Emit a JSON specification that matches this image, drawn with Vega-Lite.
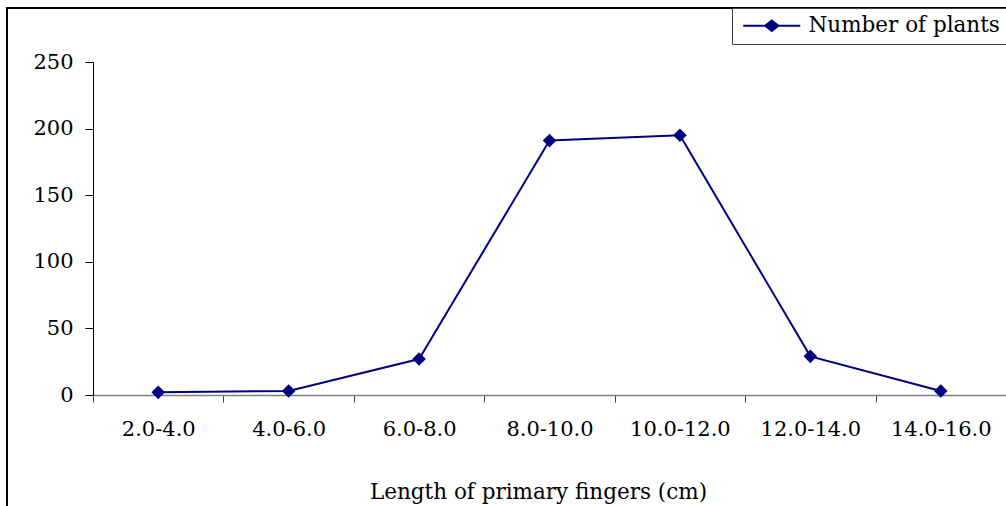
{
  "$schema": "https://vega.github.io/schema/vega-lite/v6.json",
  "width": 913,
  "height": 333,
  "autosize": {"type": "none"},
  "padding": {"left": 93, "top": 62, "right": 0, "bottom": 111},
  "background": "white",
  "config": {
    "font": "DejaVu Serif",
    "view": {"stroke": null},
    "axis": {"labelFont": "DejaVu Serif", "titleFont": "DejaVu Serif", "labelColor": "black", "titleColor": "black", "grid": false}
  },
  "datasets": {
    "counts": [
      {"length": "2.0-4.0", "plants": 2, "series": "Number of plants"},
      {"length": "4.0-6.0", "plants": 3, "series": "Number of plants"},
      {"length": "6.0-8.0", "plants": 27, "series": "Number of plants"},
      {"length": "8.0-10.0", "plants": 191, "series": "Number of plants"},
      {"length": "10.0-12.0", "plants": 195, "series": "Number of plants"},
      {"length": "12.0-14.0", "plants": 29, "series": "Number of plants"},
      {"length": "14.0-16.0", "plants": 3, "series": "Number of plants"}
    ],
    "frame": [{"id": 1}]
  },
  "layer": [
    {
      "data": {"name": "frame"},
      "mark": {"type": "rect", "fill": null, "stroke": "black", "strokeWidth": 2},
      "encoding": {
        "x": {"value": -86},
        "x2": {"value": {"expr": "width + 40"}},
        "y": {"value": -54},
        "y2": {"value": {"expr": "height + 200"}}
      }
    },
    {
      "data": {"name": "counts"},
      "encoding": {
        "x": {
          "field": "length", "type": "ordinal", "sort": null,
          "scale": {"type": "band", "paddingInner": 0, "paddingOuter": 0},
          "axis": {
            "title": "Length of primary fingers (cm)", "labelAngle": 0, "tickBand": "extent",
            "domainColor": "#808080", "domainWidth": 1.5, "tickColor": "#404040", "tickSize": 7,
            "labelFontSize": 21, "labelPadding": 16, "titleFontSize": 21.5, "titleFontWeight": "normal",
            "titlePadding": 42, "titleX": 445
          }
        },
        "y": {
          "field": "plants", "type": "quantitative",
          "scale": {"domain": [0, 250], "nice": false},
          "axis": {
            "title": null, "values": [0, 50, 100, 150, 200, 250],
            "domainColor": "black", "tickColor": "black", "tickSize": 8,
            "labelFontSize": 21, "labelPadding": 12
          }
        }
      },
      "layer": [
        {"mark": {"type": "line", "color": "#000080", "strokeWidth": 2}},
        {
          "mark": {"type": "point", "shape": "diamond", "filled": true, "size": 185, "opacity": 1},
          "encoding": {
            "color": {
              "field": "series", "type": "nominal",
              "scale": {"range": ["#000080"]},
              "legend": {
                "title": null, "orient": "none", "legendX": 639, "legendY": -54,
                "strokeColor": "#404040", "padding": 7,
                "symbolType": "M-3,0H3M0,-0.55L0.7,0L0,0.55L-0.7,0Z",
                "symbolSize": 361, "symbolStrokeWidth": 2, "symbolOffset": 22,
                "labelFontSize": 21.5, "labelFont": "DejaVu Serif", "labelColor": "black",
                "labelOffset": 26, "labelLimit": 0,
                "symbolStrokeColor": "#000080", "symbolFillColor": "#000080",
                "encode": {"symbols": {"update": {"stroke": {"value": "#000080"}, "strokeWidth": {"value": 2}, "fill": {"value": "#000080"}}}}
              }
            }
          }
        }
      ]
    }
  ]
}
